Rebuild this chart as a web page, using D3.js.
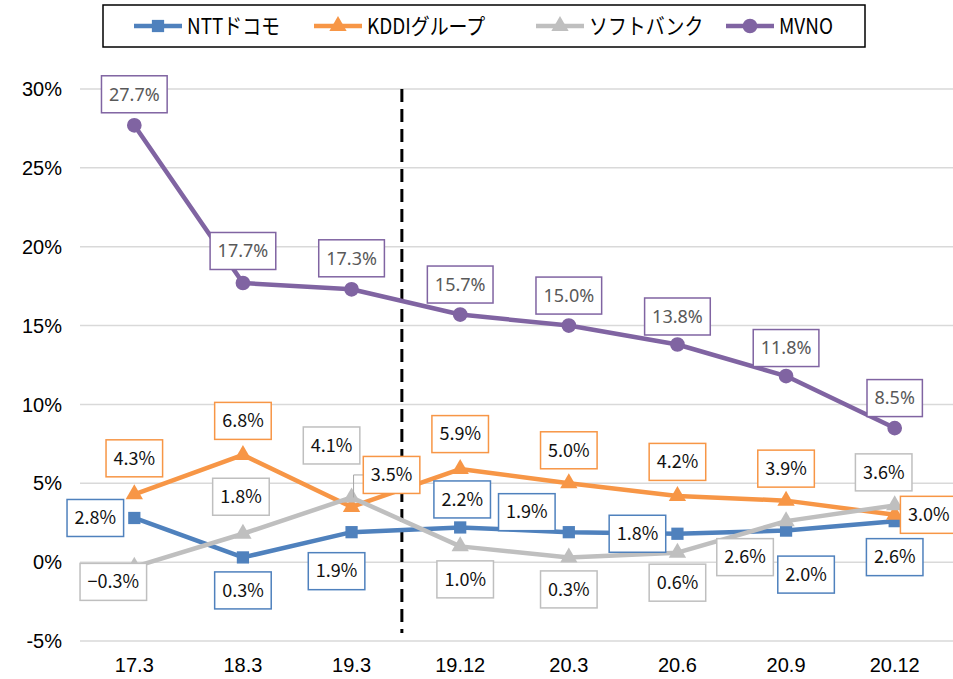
<!DOCTYPE html>
<html>
<head>
<meta charset="utf-8">
<script src="https://cdn.jsdelivr.net/npm/d3@7"></script>
<style>
  html, body { margin: 0; padding: 0; background: #fff; }
  svg { display: block; }
</style>
</head>
<body>
<div id="chart"></div>
<script>
// Data
const categories = ['17.3', '18.3', '19.3', '19.12', '20.3', '20.6', '20.9', '20.12'];
const seriesNames = ['NTTドコモ', 'KDDIグループ', 'ソフトバンク', 'MVNO'];
const nttValues = [2.8, 0.3, 1.9, 2.2, 1.9, 1.8, 2.0, 2.6];
const kddiValues = [4.3, 6.8, 3.5, 5.9, 5.0, 4.2, 3.9, 3.0];
const sbValues = [-0.3, 1.8, 4.1, 1.0, 0.3, 0.6, 2.6, 3.6];
const mvnoValues = [27.7, 17.7, 17.3, 15.7, 15.0, 13.8, 11.8, 8.5];
const yTicks = [-5, 0, 5, 10, 15, 20, 25, 30];

// Label placement (offset of label centre from the point)
const nttLabelPos = [[-39, 0], [0, 33], [-15, 39], [2, -28], [-42, -20], [-40, 0], [20, 44], [0, 36]];
const kddiLabelPos = [[0, -36], [0, -34], [40, -32], [0, -35], [0, -33], [0, -34], [0, -32], [34, 0]];
const sbLabelPos = [[-21, 15], [-2, -37], [-20, -52], [5, 33], [0, 32], [0, 30], [-41, 36], [-11, -33]];
const mvnoLabelPos = [[0, -31], [0, -32], [0, -31], [0, -30], [0, -30], [0, -28], [0, -28], [0, -30]];

const colors = ['#4f81bd', '#f79646', '#bfbfbf', '#8064a2'];
const markers = ['square', 'triangle', 'triangle', 'circle'];

const width = 953, height = 679;
const svg = d3.select('#chart').append('svg')
    .attr('width', width)
    .attr('height', height);

const x = d3.scaleBand().domain(categories).range([80, 949]);
const xc = d => x(d) + x.bandwidth() / 2;
const y = d3.scaleLinear().domain([-5, 30]).range([641, 89]);

// Gridlines
svg.append('g')
    .selectAll('line')
    .data(yTicks)
    .join('line')
    .attr('x1', 80).attr('x2', width)
    .attr('y1', d => y(d)).attr('y2', d => y(d))
    .attr('stroke', '#d9d9d9')
    .attr('stroke-width', 1.5);

// Y axis labels
svg.append('g')
    .selectAll('text')
    .data(yTicks)
    .join('text')
    .attr('x', 62)
    .attr('y', d => y(d))
    .attr('dy', '0.36em')
    .attr('text-anchor', 'end')
    .style('font-family', '"Liberation Sans", Arial, sans-serif')
    .style('font-size', '20px')
    .attr('fill', '#000')
    .text(d => d + '%');

// X axis labels
svg.append('g')
    .selectAll('text')
    .data(categories)
    .join('text')
    .attr('x', d => xc(d))
    .attr('y', 672)
    .attr('text-anchor', 'middle')
    .style('font-family', '"Liberation Sans", Arial, sans-serif')
    .style('font-size', '20px')
    .attr('fill', '#000')
    .text(d => d);

// Dashed divider between 19.3 and 19.12
const divX = (xc('19.3') + xc('19.12')) / 2 - 4;
svg.append('line')
    .attr('x1', divX).attr('x2', divX)
    .attr('y1', y(30)).attr('y2', 633)
    .attr('stroke', '#000')
    .attr('stroke-width', 3)
    .attr('stroke-dasharray', '13,7');

const allSeries = [nttValues, kddiValues, sbValues, mvnoValues];
const allLabelPos = [nttLabelPos, kddiLabelPos, sbLabelPos, mvnoLabelPos];

const symbolFor = (kind) => {
    if (kind === 'square') return d3.symbol(d3.symbolSquare, 150)();
    if (kind === 'triangle') return d3.symbol(d3.symbolTriangle, 130)();
    return d3.symbol(d3.symbolCircle, 170)();
};

const line = d3.line()
    .x((d, i) => xc(categories[i]))
    .y(d => y(d));

// Series lines and markers
allSeries.forEach((vals, s) => {
    const g = svg.append('g');
    g.append('path')
        .datum(vals)
        .attr('d', line)
        .attr('fill', 'none')
        .attr('stroke', colors[s])
        .attr('stroke-width', 4.5)
        .attr('stroke-linejoin', 'round');
    g.selectAll('path.mk')
        .data(vals)
        .join('path')
        .attr('class', 'mk')
        .attr('d', symbolFor(markers[s]))
        .attr('transform', (d, i) => `translate(${xc(categories[i])},${y(d)})`)
        .attr('fill', colors[s]);
});

// Leader line for the 19.3 label cluster
{
    const px = xc('19.3');
    const py = y(sbValues[2]);
    const ly = y(kddiValues[2]) + kddiLabelPos[2][1];
    const lx = px + kddiLabelPos[2][0] - 26;
    svg.append('path')
        .attr('d', `M${px + 2},${py} L${px + 2},${ly} L${lx},${ly}`)
        .attr('fill', 'none')
        .attr('stroke', '#a6a6a6')
        .attr('stroke-width', 1);
}

// Data labels
allSeries.forEach((vals, s) => {
    const isMvno = s === 3;
    vals.forEach((v, i) => {
        const cx = xc(categories[i]) + allLabelPos[s][i][0];
        const cy = y(v) + allLabelPos[s][i][1];
        const g = svg.append('g');
        const txt = g.append('text')
            .attr('x', cx)
            .attr('y', cy)
            .attr('dy', '0.35em')
            .attr('text-anchor', 'middle')
            .style('font-family', isMvno ? '"Noto Sans", sans-serif' : '"Noto Sans CJK JP", sans-serif')
            .style('font-size', '18px')
            .attr('fill', isMvno ? '#595959' : '#111')
            .text((v < 0 ? '−' + Math.abs(v).toFixed(1) : v.toFixed(1)) + '%');
        const tw = txt.node().getComputedTextLength();
        const bw = tw + 15;
        const bh = 37;
        g.insert('rect', 'text')
            .attr('x', cx - bw / 2)
            .attr('y', cy - bh / 2)
            .attr('width', bw)
            .attr('height', bh)
            .attr('fill', '#fff')
            .attr('stroke', colors[s])
            .attr('stroke-width', 1.5);
    });
});

// Legend
const legend = svg.append('g');
legend.append('rect')
    .attr('x', 103).attr('y', 5)
    .attr('width', 762).attr('height', 42)
    .attr('fill', '#fff')
    .attr('stroke', '#000')
    .attr('stroke-width', 1.5);

const legendX = [134, 314, 536, 726];
seriesNames.forEach((name, s) => {
    const lx = legendX[s];
    const ly = 26;
    legend.append('line')
        .attr('x1', lx).attr('x2', lx + 48)
        .attr('y1', ly).attr('y2', ly)
        .attr('stroke', colors[s])
        .attr('stroke-width', 4.5);
    legend.append('path')
        .attr('d', symbolFor(markers[s]))
        .attr('transform', `translate(${lx + 24},${ly})`)
        .attr('fill', colors[s]);
    // text is drawn a bit tall and narrow, like the reference
    legend.append('text')
        .attr('transform', `translate(${lx + 53},${ly}) scale(0.86,1)`)
        .attr('dy', '0.36em')
        .style('font-family', '"Noto Sans CJK JP", sans-serif')
        .style('font-size', '22px')
        .attr('fill', '#000')
        .text(name);
});
</script>
</body>
</html>
